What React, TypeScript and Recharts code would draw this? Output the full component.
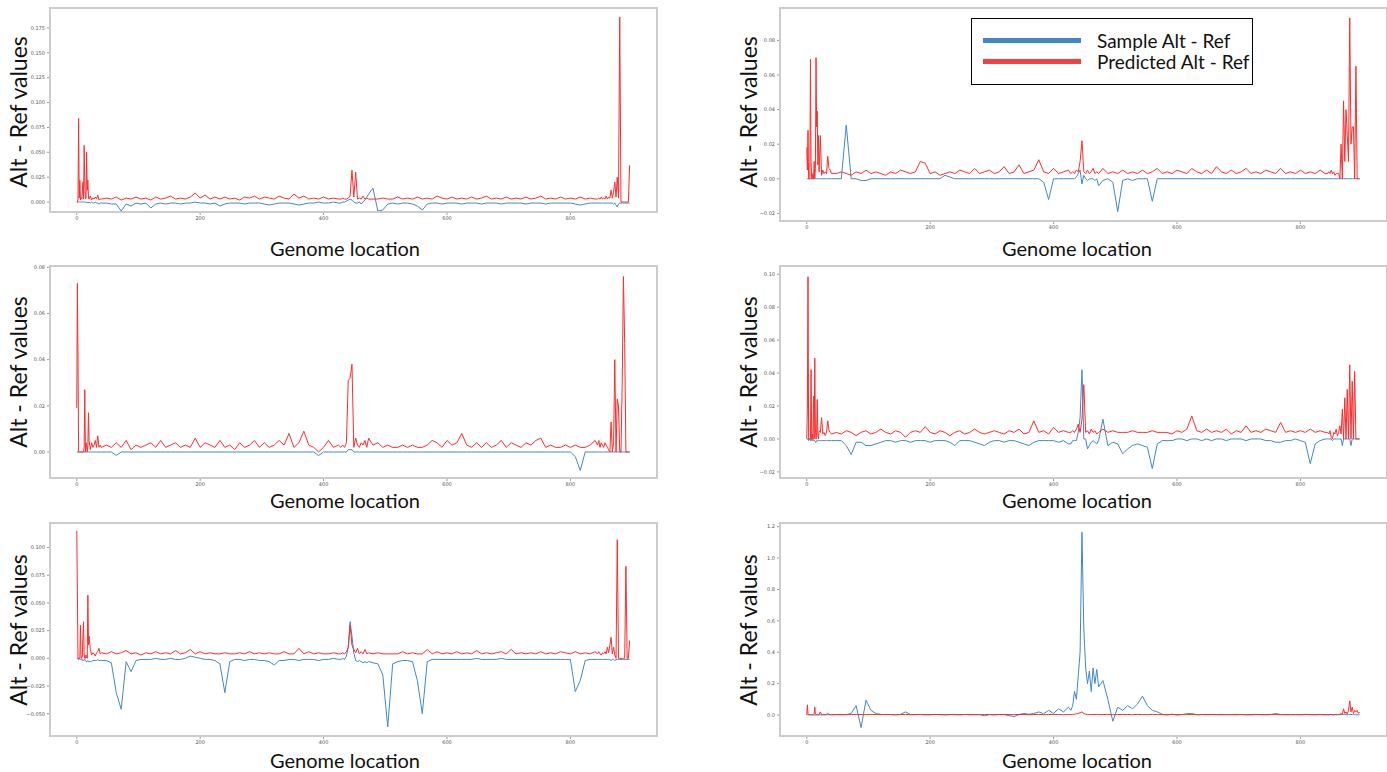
import { LineChart, Line, XAxis, YAxis } from 'recharts';

// genome positions (denser around the spikes at both ends and the middle)
const LOCATIONS = [
  0, 1, 2, 3, 4, 5, 6, 7, 8, 9, 10, 11, 12, 13, 14, 15, 16, 17, 18, 19, 20,
  22, 24, 26, 28, 30, 32, 34, 36, 38, 40,
  48, 56, 64, 72, 80, 88, 96, 104,
  112, 120, 128, 136, 144, 152, 160, 168,
  176, 184, 192, 200, 208, 216, 224, 232,
  240, 248, 256, 264, 272, 280, 288, 296,
  304, 312, 320, 328, 336, 344, 352, 360,
  368, 376, 384, 392, 400, 408, 416, 424,
  428, 431, 434, 437, 440, 443, 446, 449,
  452, 455, 458, 461, 464, 467, 470, 473,
  480, 488, 496, 504, 512, 520, 528, 536,
  544, 552, 560, 568, 576, 584, 592, 600,
  608, 616, 624, 632, 640, 648, 656, 664,
  672, 680, 688, 696, 704, 712, 720, 728,
  736, 744, 752, 760, 768, 776, 784, 792,
  800, 808, 816, 824, 832, 840,
  844, 846, 848, 850, 852, 854, 856, 858,
  860, 862, 864, 866, 868, 870, 872, 874,
  876, 878, 880, 882, 884, 886, 888, 890,
  892, 894, 896,
];

const X_TICKS = [0, 200, 400, 600, 800];

// top left
const L1_SAMPLE = [
  0, 0, 0, 0, 0, 0, 0, 0, 0, 0, 0, 0, 0, 0, 0, 0, 0, -0.001, 0, -0.001, 0,
  -0.001, 0, -0.001, -0.001, 0, -0.001, -0.001, -0.002, -0.001, -0.001,
  -0.001, -0.002, -0.002, -0.009, -0.002, -0.004, -0.001, -0.002,
  -0.001, -0.006, -0.002, -0.001, -0.002, -0.001, -0.001, -0.002,
  -0.001, -0.001, 0, -0.001, -0.001, -0.002, -0.001, -0.004,
  -0.002, -0.001, -0.001, -0.001, -0.002, -0.001, -0.001, -0.001,
  -0.002, -0.003, -0.002, -0.001, -0.001, -0.001, -0.002, -0.003,
  -0.002, -0.001, -0.001, 0, -0.001, -0.001, 0, -0.001,
  -0.001, 0, 0, 0.001, 0.002, 0.003, 0.002, 0,
  -0.001, -0.001, 0, -0.002, 0, 0.002, 0.005, 0.008,
  0.014, -0.009, -0.008, -0.002, -0.001, -0.002, -0.001, -0.001,
  -0.002, -0.004, -0.008, -0.002, -0.001, -0.001, -0.002, -0.001,
  -0.001, -0.001, -0.002, -0.001, -0.001, -0.001, -0.002, -0.001,
  -0.001, -0.001, -0.002, -0.001, -0.001, -0.001, -0.001, -0.002,
  -0.001, -0.001, -0.001, -0.002, -0.001, -0.001, -0.001, -0.001,
  -0.001, -0.002, -0.003, -0.002, -0.001, -0.001,
  -0.001, -0.001, -0.001, -0.001, -0.001, -0.001, -0.001, -0.001,
  -0.001, -0.001, -0.001, -0.001, -0.001, -0.002, -0.001, -0.003,
  -0.005, -0.002, -0.001, -0.001, -0.001, -0.001, -0.001, -0.001,
  -0.001, -0.001, -0.001,
];
const L1_PREDICTED = [
  0, 0, 0.003, 0.084, 0.004, 0.022, 0.002, 0.004, 0.003, 0.01, 0.02, 0.003, 0.057, 0.02, 0.003, 0.004, 0.05, 0.012, 0.022, 0.004, 0.003,
  0.006, 0.002, 0.004, 0.003, 0.005, 0.003, 0.007, 0.002, 0.003, 0.003,
  0.004, 0.003, 0.005, 0.002, 0.004, 0.003, 0.005, 0.003,
  0.004, 0.002, 0.005, 0.003, 0.004, 0.006, 0.003, 0.004,
  0.003, 0.005, 0.009, 0.004, 0.007, 0.003, 0.005, 0.003,
  0.005, 0.003, 0.004, 0.002, 0.005, 0.004, 0.006, 0.003,
  0.005, 0.004, 0.003, 0.006, 0.004, 0.003, 0.008, 0.004,
  0.006, 0.003, 0.004, 0.003, 0.005, 0.003, 0.004, 0.003,
  0.003, 0.004, 0.003, 0.003, 0.004, 0.006, 0.032, 0.005,
  0.03, 0.003, 0.004, 0.003, 0.006, 0.003, 0.004, 0.003,
  0.003, 0.003, 0.004, 0.003, 0.003, 0.005, 0.003, 0.004,
  0.003, 0.005, 0.003, 0.004, 0.003, 0.006, 0.004, 0.003,
  0.005, 0.003, 0.004, 0.003, 0.005, 0.003, 0.004, 0.006,
  0.003, 0.004, 0.003, 0.005, 0.003, 0.004, 0.003, 0.005,
  0.003, 0.004, 0.006, 0.003, 0.004, 0.003, 0.005, 0.003,
  0.004, 0.003, 0.005, 0.003, 0.004, 0.003,
  0.003, 0.004, 0.003, 0.005, 0.003, 0.004, 0.003, 0.006,
  0.003, 0.005, 0.004, 0.012, 0.004, 0.01, 0.02, 0.005,
  0.025, 0.004, 0.186, 0, 0, 0, 0, 0,
  0, 0, 0.037,
];

// top right
const R1_SAMPLE = [
  0, 0, 0, 0, 0, 0, 0, 0, 0, 0, 0, 0, 0, 0, 0, 0, 0, 0, 0, 0, 0,
  0, 0, 0, 0, 0, 0, 0, 0, 0, 0,
  0, 0, 0.031, 0, 0, -0.001, -0.001, 0,
  0, 0, 0, 0, 0, 0, 0, 0,
  0, 0, 0, 0, 0, 0, 0.002, 0.001,
  0, 0, 0, 0, 0, 0, 0, 0,
  0, 0, 0, 0, 0, 0, 0, 0,
  0, 0, -0.002, -0.012, 0, 0, 0, 0,
  0, 0, 0, 0.001, 0.003, 0.005, -0.003, 0.002,
  0, -0.001, 0, 0, 0, -0.001, 0, -0.004,
  -0.001, 0, -0.002, -0.019, -0.001, 0, -0.001, 0,
  0, 0, -0.013, 0, 0, 0, 0, 0,
  0, 0, 0, 0, 0, 0, 0, 0,
  0, 0, 0, 0, 0, 0, 0, 0,
  0, 0, 0, 0, 0, 0, 0, 0,
  0, 0, 0, 0, 0, 0,
  0, 0, 0, 0, 0, 0, 0, 0,
  0, 0, 0, 0, 0, 0, 0, 0,
  0, 0, 0, 0, 0, 0, 0, 0,
  0, 0, 0,
];
const R1_PREDICTED = [
  0.018, 0.005, 0.028, 0, 0, 0, 0.069, 0.01, 0, 0, 0.003, 0, 0.01, 0, 0.006, 0.07, 0.03, 0.039, 0.008, 0.025, 0.004,
  0.025, 0.002, 0.005, 0.003, 0.004, 0.003, 0.013, 0.006, 0.005, 0.003,
  0.003, 0.004, 0.003, 0.002, 0.004, 0.003, 0.005, 0.003,
  0.004, 0.003, 0.002, 0.004, 0.003, 0.005, 0.004, 0.003,
  0.004, 0.01, 0.009, 0.003, 0.004, 0.002, 0.003, 0.004,
  0.003, 0.005, 0.004, 0.003, 0.006, 0.003, 0.004, 0.005,
  0.003, 0.004, 0.007, 0.003, 0.004, 0.008, 0.003, 0.004,
  0.005, 0.011, 0.004, 0.003, 0.006, 0.003, 0.004, 0.005,
  0.003, 0.004, 0.003, 0.005, 0.004, 0.01, 0.022, 0.004,
  0.003, 0.005, 0.003, 0.004, 0.006, 0.003, 0.004, 0.003,
  0.006, 0.003, 0.004, 0.003, 0.005, 0.003, 0.004, 0.003,
  0.005, 0.003, 0.004, 0.006, 0.003, 0.004, 0.003, 0.005,
  0.004, 0.003, 0.006, 0.004, 0.003, 0.005, 0.003, 0.007,
  0.004, 0.003, 0.005, 0.003, 0.004, 0.006, 0.003, 0.004,
  0.003, 0.005, 0.004, 0.003, 0.006, 0.003, 0.004, 0.003,
  0.005, 0.003, 0.004, 0.003, 0.005, 0.003,
  0.003, 0.004, 0.003, 0.005, 0.003, 0.004, 0.002, 0.003,
  0.003, 0.003, 0, 0.02, 0, 0.045, 0.01, 0.04,
  0.025, 0.01, 0.093, 0.02, 0.03, 0.03, 0, 0.065,
  0, 0, 0,
];

// middle left
const L2_SAMPLE = [
  0, 0, 0, 0, 0, 0, 0, 0, 0, 0, 0, 0, 0, 0, 0, 0, 0, 0, 0, 0, 0,
  0, 0, 0, 0, 0, 0, 0, 0, 0, 0,
  0, 0, -0.0015, 0, 0, 0, 0, 0,
  0, 0, 0, 0, 0, 0, 0, 0,
  0, 0, 0, 0, 0, 0, 0, 0,
  0, 0, 0, 0, 0, 0, 0, 0,
  0, 0, 0, 0, 0, 0, 0, 0,
  0, 0, 0, -0.0015, 0, 0, 0, 0,
  0, 0, 0, 0, 0.001, 0.001, 0.001, 0,
  0, 0, 0, 0, 0, 0, 0, 0,
  0, 0, 0, 0, 0, 0, 0, 0,
  0, 0, 0, 0, 0, 0, 0, 0,
  0, 0, 0, 0, 0, 0, 0, 0,
  0, 0, 0, 0, 0, 0, 0, 0,
  0, 0, 0, 0, 0, 0, 0, 0,
  0, -0.002, -0.008, 0, 0, 0,
  0, 0, 0, 0, 0, 0, 0, 0,
  0, 0, 0, 0, 0, 0, 0, 0,
  0, 0, 0, 0, 0, 0, 0, 0,
  0, 0, 0,
];
const L2_PREDICTED = [
  0.019, 0.073, 0.04, 0, 0, 0, 0, 0, 0, 0, 0, 0, 0.002, 0.027, 0, 0.004, 0.002, 0, 0.003, 0.017, 0.005,
  0.001, 0.004, 0.002, 0.003, 0.005, 0.002, 0.007, 0.002, 0.003, 0.002,
  0.003, 0.002, 0.004, 0.002, 0.005, 0.001, 0.003, 0.002,
  0.003, 0.004, 0.002, 0.005, 0.002, 0.003, 0.004, 0.002,
  0.003, 0.002, 0.006, 0.002, 0.004, 0.003, 0.002, 0.005,
  0.002, 0.003, 0.001, 0.004, 0.002, 0.003, 0.005, 0.002,
  0.004, 0.002, 0.003, 0.005, 0.003, 0.008, 0.002, 0.004,
  0.009, 0.003, 0.002, 0, 0.002, 0.005, 0.002, 0.003,
  0.002, 0.003, 0.002, 0.004, 0.031, 0.032, 0.038, 0.002,
  0.006, 0.003, 0.002, 0.004, 0.003, 0.005, 0.002, 0.006,
  0.003, 0.004, 0.002, 0.003, 0.002, 0.002, 0.003, 0.002,
  0.003, 0.002, 0.002, 0.003, 0.005, 0.004, 0.002, 0.005,
  0.003, 0.004, 0.008, 0.003, 0.002, 0.004, 0.002, 0.004,
  0.002, 0.003, 0.005, 0.002, 0.004, 0.003, 0.002, 0.004,
  0.003, 0.005, 0.006, 0.002, 0.003, 0.002, 0.002, 0.003,
  0.002, 0.003, 0.002, 0.002, 0.003, 0.005,
  0.003, 0.005, 0.002, 0.004, 0.003, 0.002, 0.004, 0.003,
  0.002, 0.001, 0, 0.013, 0, 0.004, 0.04, 0,
  0.023, 0.02, 0, 0, 0.03, 0.076, 0.047, 0,
  0, 0, 0,
];

// middle right
const R2_SAMPLE = [
  0, 0, 0, -0.001, 0, 0, -0.001, 0, -0.001, -0.001, 0, -0.001, -0.001, -0.001, -0.002, -0.002, -0.001, -0.001, -0.001, -0.001, -0.001,
  -0.001, -0.001, -0.001, -0.001, -0.001, -0.001, -0.001, -0.001, -0.001, -0.001,
  -0.001, -0.001, -0.004, -0.0095, -0.002, -0.002, -0.004, -0.004,
  -0.003, -0.002, -0.001, -0.001, -0.002, -0.001, -0.001, -0.002,
  -0.001, -0.001, -0.001, -0.002, -0.001, -0.001, -0.001, -0.002,
  -0.004, -0.001, -0.001, -0.001, -0.002, -0.003, -0.004, -0.002,
  -0.001, -0.001, -0.002, -0.001, -0.001, -0.002, -0.003, -0.004,
  -0.002, -0.001, -0.001, -0.001, -0.001, -0.002, -0.001, -0.003,
  -0.003, -0.001, -0.001, -0.001, 0.004, 0.013, 0.042, 0,
  0, -0.006, -0.004, -0.002, -0.001, -0.002, -0.003, -0.001,
  0.012, -0.004, -0.002, -0.003, -0.009, -0.006, -0.004, -0.003,
  -0.004, -0.005, -0.018, -0.003, -0.001, -0.001, -0.001, 0,
  0, -0.001, 0, 0, -0.001, 0, -0.001, 0,
  0, -0.001, 0, 0, 0, -0.001, 0, 0,
  0, -0.001, -0.001, -0.002, -0.002, -0.001, -0.001, 0,
  -0.001, -0.002, -0.015, -0.003, -0.001, 0,
  0, 0, 0, 0, -0.001, 0, 0, 0,
  0, 0, 0, 0, -0.004, 0, 0, 0,
  0, 0, 0, -0.004, 0, 0, 0, 0,
  0, 0, 0,
];
const R2_PREDICTED = [
  0, 0.02, 0.0985, 0, 0, 0, 0, 0.042, 0, 0.003, 0, 0.026, 0, 0.049, 0.006, 0, 0.004, 0.024, 0.002, 0, 0.005,
  0.004, 0.013, 0.003, 0.004, 0.002, 0.004, 0.011, 0.005, 0.004, 0.003,
  0.004, 0.003, 0.005, 0.004, 0.002, 0.004, 0.005, 0.003,
  0.004, 0.006, 0.004, 0.003, 0.005, 0.004, 0.001, 0.004,
  0.005, 0.004, 0.0075, 0.004, 0.003, 0.005, 0.004, 0.002,
  0.004, 0.005, 0.003, 0.004, 0.006, 0.004, 0.003, 0.004,
  0.005, 0.004, 0.003, 0.005, 0.004, 0.006, 0.003, 0.004,
  0.011, 0.004, 0.005, 0.003, 0.007, 0.004, 0.005, 0.004,
  0.004, 0.005, 0.004, 0.006, 0.009, 0.004, 0.012, 0.033,
  0.004, 0.005, 0.003, 0.006, 0.004, 0.005, 0.003, 0.004,
  0.006, 0.004, 0.005, 0.004, 0.004, 0.004, 0.005, 0.004,
  0.004, 0.004, 0.005, 0.004, 0.004, 0.004, 0.003, 0.005,
  0.004, 0.006, 0.014, 0.005, 0.004, 0.006, 0.004, 0.005,
  0.004, 0.006, 0.003, 0.005, 0.004, 0.008, 0.004, 0.005,
  0.004, 0.006, 0.005, 0.004, 0.01, 0.004, 0.005, 0.004,
  0.005, 0.004, 0.006, 0.004, 0.005, 0.004,
  0.004, 0.003, 0.005, 0.001, 0, 0.004, 0.003, 0.006,
  0.002, 0.004, 0.008, 0.003, 0.018, 0, 0.025, 0,
  0.03, 0, 0.045, 0, 0.035, 0, 0.041, 0,
  0, 0, 0,
];

// bottom left
const L3_SAMPLE = [
  0, 0, -0.001, -0.001, 0, -0.001, -0.001, -0.001, -0.001, -0.002, -0.001, -0.002, -0.002, -0.001, -0.002, -0.003, -0.003, -0.003, -0.002, -0.003, -0.003,
  -0.003, -0.003, -0.002, -0.002, -0.002, -0.002, -0.001, -0.002, -0.002, -0.002,
  -0.002, -0.004, -0.031, -0.046, -0.003, -0.012, -0.002, -0.001,
  -0.001, -0.001, 0, -0.001, -0.001, 0, -0.001, -0.001,
  0, 0.002, 0.001, 0, -0.001, -0.001, -0.002, -0.005,
  -0.031, -0.003, -0.001, -0.001, -0.002, -0.001, -0.001, -0.002,
  -0.002, -0.003, -0.006, -0.002, -0.002, -0.001, -0.001, -0.002,
  -0.001, -0.001, -0.001, -0.002, -0.001, -0.001, 0, -0.001,
  -0.001, 0, -0.001, 0.002, 0.01, 0.033, 0.02, 0.005,
  -0.002, -0.003, -0.002, -0.003, -0.004, -0.003, -0.004, -0.003,
  -0.004, -0.005, -0.015, -0.062, -0.005, -0.003, -0.002, -0.002,
  -0.003, -0.02, -0.05, -0.003, -0.001, -0.001, -0.001, -0.001,
  -0.001, -0.001, -0.001, -0.001, -0.001, 0, -0.001, -0.001,
  -0.001, -0.001, 0, -0.001, -0.001, -0.001, -0.001, -0.001,
  -0.001, -0.001, -0.001, -0.001, -0.001, -0.001, -0.001, -0.001,
  -0.001, -0.03, -0.02, -0.002, -0.001, -0.001,
  -0.001, -0.001, -0.001, -0.001, -0.001, -0.001, -0.001, -0.001,
  -0.001, -0.001, -0.001, -0.002, -0.001, -0.001, -0.002, -0.001,
  -0.001, -0.001, -0.001, -0.001, -0.001, -0.001, -0.001, -0.001,
  -0.001, -0.001, -0.001,
];
const L3_PREDICTED = [
  0.115, 0.06, 0, 0, 0, 0, 0.03, 0, 0, 0.002, 0.02, 0.033, 0.003, 0, 0, 0.003, 0.001, 0, 0.057, 0.012, 0.02,
  0.008, 0.003, 0.005, 0.004, 0.002, 0.005, 0.006, 0.009, 0.004, 0.005,
  0.004, 0.006, 0.004, 0.005, 0.007, 0.004, 0.005, 0.003,
  0.005, 0.004, 0.006, 0.004, 0.005, 0.004, 0.007, 0.004,
  0.005, 0.008, 0.004, 0.006, 0.004, 0.005, 0.004, 0.004,
  0.005, 0.004, 0.004, 0.005, 0.004, 0.006, 0.004, 0.005,
  0.004, 0.005, 0.004, 0.004, 0.006, 0.004, 0.004, 0.009,
  0.004, 0.006, 0.004, 0.005, 0.004, 0.004, 0.005, 0.004,
  0.004, 0.005, 0.004, 0.006, 0.01, 0.03, 0.012, 0.008,
  0.005, 0.009, 0.004, 0.006, 0.004, 0.008, 0.004, 0.005,
  0.004, 0.005, 0.004, 0.004, 0.004, 0.004, 0.006, 0.004,
  0.005, 0.004, 0.004, 0.008, 0.004, 0.006, 0.004, 0.005,
  0.004, 0.006, 0.004, 0.005, 0.004, 0.007, 0.004, 0.005,
  0.004, 0.005, 0.006, 0.004, 0.008, 0.004, 0.005, 0.004,
  0.005, 0.004, 0.006, 0.004, 0.005, 0.004, 0.006, 0.005,
  0.004, 0.006, 0.004, 0.005, 0.004, 0.006,
  0.004, 0.006, 0.004, 0.003, 0.005, 0.004, 0.006, 0.004,
  0.01, 0.005, 0.012, 0.019, 0.004, 0.01, 0.003, 0,
  0.107, 0, 0, 0, 0, 0, 0, 0.083,
  0, 0, 0.016,
];

// bottom right
const R3_SAMPLE = [
  0, 0.002, 0, 0.001, 0, 0.002, 0.001, 0, 0.001, 0, 0.002, 0.001, 0, 0.001, 0, 0.002, 0.001, 0, 0.001, 0, 0.001,
  0.002, 0, 0.001, 0.003, 0, 0.002, 0.001, 0.003, 0, 0.002,
  0.002, 0.001, 0.003, 0.01, 0.06, -0.08, 0.095, 0.03,
  0.01, 0.004, 0.002, 0.003, 0.001, 0.004, 0.02, 0.003,
  0.002, 0.003, 0.001, 0.002, 0.004, 0.002, 0.001, 0.003,
  0.002, 0.001, 0.003, 0.001, 0.002, 0.003, -0.005, 0.002,
  0.001, 0.003, 0.002, -0.004, -0.01, 0.003, 0.01, 0.005,
  0.01, 0.02, 0.008, 0.03, 0.01, 0.04, 0.02, 0.05,
  0.03, 0.06, 0.15, 0.1, 0.25, 0.4, 1.165, 0.55,
  0.3, 0.2, 0.28, 0.15, 0.3, 0.2, 0.29, 0.18,
  0.22, 0.1, -0.04, 0.05, 0.03, 0.06, 0.04, 0.07,
  0.12, 0.06, 0.03, 0.02, 0.005, 0, 0.005, 0,
  0.003, 0.008, 0.01, 0.002, 0.003, 0.001, 0.004, 0.002,
  0.001, 0.003, 0.002, 0.001, 0.003, 0.002, 0.001, 0.002,
  0.003, 0.001, 0.002, 0.01, 0.003, 0.001, 0.002, 0.003,
  0.001, 0.002, 0.003, 0.001, 0.002, 0.001,
  0.002, 0.001, 0.003, 0.002, 0.001, 0.002, 0.003, 0.001,
  0.002, 0.001, 0.003, 0.002, 0.004, 0.002, 0.003, 0.002,
  0.001, 0.003, 0.002, 0.004, 0.002, 0.003, 0.002, 0.001,
  0.002, 0.001, 0.002,
];
const R3_PREDICTED = [
  0, 0.065, 0.01, 0.002, 0.003, 0.002, 0.003, 0.002, 0.003, 0.002, 0.003, 0.002, 0.01, 0.05, 0.004, 0.002, 0.003, 0.002, 0.003, 0.002, 0.003,
  0.02, 0.004, 0.003, 0.002, 0.003, 0.005, 0.01, 0.004, 0.003, 0.002,
  0.003, 0.004, 0.002, 0.003, 0.004, 0.003, 0.002, 0.004,
  0.003, 0.002, 0.004, 0.003, 0.002, 0.003, 0.004, 0.002,
  0.003, 0.004, 0.003, 0.002, 0.003, 0.004, 0.002, 0.003,
  0.004, 0.002, 0.003, 0.004, 0.003, 0.002, 0.003, 0.004,
  0.002, 0.003, 0.004, 0.003, 0.002, 0.004, 0.003, 0.002,
  0.003, 0.004, 0.002, 0.003, 0.004, 0.003, 0.002, 0.003,
  0.003, 0.004, 0.005, 0.008, 0.01, 0.015, 0.02, 0.01,
  0.005, 0.004, 0.003, 0.003, 0.004, 0.003, 0.004, 0.003,
  0.003, 0.004, 0.002, 0.003, 0.004, 0.003, 0.002, 0.004,
  0.003, 0.002, 0.004, 0.003, 0.002, 0.003, 0.004, 0.002,
  0.003, 0.004, 0.003, 0.002, 0.003, 0.004, 0.002, 0.003,
  0.004, 0.002, 0.003, 0.004, 0.003, 0.002, 0.003, 0.004,
  0.002, 0.003, 0.004, 0.003, 0.002, 0.004, 0.003, 0.002,
  0.003, 0.004, 0.002, 0.003, 0.004, 0.003,
  0.003, 0.002, 0.003, 0.004, 0.003, 0.002, 0.003, 0.004,
  0.003, 0.005, 0.004, 0.01, 0.004, 0.04, 0.01, 0.02,
  0.005, 0.03, 0.09, 0.02, 0.05, 0.01, 0.03, 0.02,
  0.03, 0.01, 0.02,
];

const L1_TICKS = [0, 0.025, 0.05, 0.075, 0.1, 0.125, 0.15, 0.175];
const R1_TICKS = [-0.02, 0, 0.02, 0.04, 0.06, 0.08];
const L2_TICKS = [0, 0.02, 0.04, 0.06, 0.08];
const R2_TICKS = [-0.02, 0, 0.02, 0.04, 0.06, 0.08, 0.1];
const L3_TICKS = [-0.05, -0.025, 0, 0.025, 0.05, 0.075, 0.1];
const R3_TICKS = [0, 0.2, 0.4, 0.6, 0.8, 1.0, 1.2];

const SERIES_NAMES = ['Sample Alt - Ref', 'Predicted Alt - Ref'];

const BLUE = '#3f8ac6';
const RED = '#ff2b2b';
const BOX_W = 609;
const AXIS_W = 40;
const X_DOMAIN: [number, number] = [-45, 942];
const LABEL_FONT = 'Lato, "Open Sans", sans-serif';
const TICK_STYLE = { fontSize: 5, fill: '#555', fontFamily: 'DejaVu Sans' };

const PANELS = [
  { left: 49, top: 7, h: 206, domain: [-0.011, 0.196], ticks: L1_TICKS, dec: 3, sample: L1_SAMPLE, predicted: L1_PREDICTED },
  { left: 779, top: 7, h: 215, domain: [-0.025, 0.0993], ticks: R1_TICKS, dec: 2, sample: R1_SAMPLE, predicted: R1_PREDICTED },
  { left: 49, top: 265, h: 214, domain: [-0.0117, 0.081], ticks: L2_TICKS, dec: 2, sample: L2_SAMPLE, predicted: L2_PREDICTED },
  { left: 779, top: 265, h: 214, domain: [-0.0243, 0.1056], ticks: R2_TICKS, dec: 2, sample: R2_SAMPLE, predicted: R2_PREDICTED },
  { left: 49, top: 522, h: 215, domain: [-0.071, 0.123], ticks: L3_TICKS, dec: 3, sample: L3_SAMPLE, predicted: L3_PREDICTED },
  { left: 779, top: 522, h: 215, domain: [-0.14, 1.23], ticks: R3_TICKS, dec: 1, sample: R3_SAMPLE, predicted: R3_PREDICTED },
];

// where the axis titles sit (centres)
const X_TITLES = [
  { x: 345, y: 248 }, { x: 1077, y: 248 },
  { x: 345, y: 500 }, { x: 1077, y: 500 },
  { x: 345, y: 760 }, { x: 1077, y: 760 },
];
const Y_TITLES = [
  { x: 18, y: 112 }, { x: 748, y: 112 },
  { x: 18, y: 372 }, { x: 748, y: 372 },
  { x: 18, y: 630 }, { x: 748, y: 630 },
];

function fmt(dec: number) {
  return (v: number) => (v < 0 ? '\u2212' : '') + Math.abs(v).toFixed(dec);
}

function Panel({ cfg }: { cfg: (typeof PANELS)[number] }) {
  const rows = LOCATIONS.map((x, i) => ({ x, sample: cfg.sample[i], predicted: cfg.predicted[i] }));
  return (
    <div style={{ position: 'absolute', left: cfg.left - AXIS_W, top: cfg.top }}>
      <LineChart width={BOX_W + AXIS_W} height={cfg.h + 14} data={rows} margin={{ top: 0, right: 0, bottom: 0, left: 0 }}>
        <XAxis
          type="number"
          dataKey="x"
          domain={X_DOMAIN}
          ticks={X_TICKS}
          allowDataOverflow
          height={14}
          tickSize={2}
          tickMargin={1}
          axisLine={false}
          tickLine={{ stroke: '#999' }}
          tick={TICK_STYLE}
        />
        <YAxis
          type="number"
          domain={cfg.domain}
          ticks={cfg.ticks}
          allowDataOverflow
          width={AXIS_W}
          tickSize={2}
          tickMargin={2}
          axisLine={false}
          tickLine={{ stroke: '#999' }}
          tick={TICK_STYLE}
          tickFormatter={fmt(cfg.dec)}
        />
        <Line type="linear" dataKey="sample" name={SERIES_NAMES[0]} stroke={BLUE} strokeWidth={1} dot={false} activeDot={false} isAnimationActive={false} />
        <Line type="linear" dataKey="predicted" name={SERIES_NAMES[1]} stroke={RED} strokeWidth={1} dot={false} activeDot={false} isAnimationActive={false} />
      </LineChart>
      <div
        style={{
          position: 'absolute',
          left: AXIS_W,
          top: 0,
          width: BOX_W,
          height: cfg.h,
          border: '2px solid #cccccc',
          boxSizing: 'border-box',
          pointerEvents: 'none',
        }}
      />
    </div>
  );
}

export default function App() {
  return (
    <div style={{ position: 'absolute', left: 0, top: 0, width: 1387, height: 772, overflow: 'hidden', background: '#fff' }}>
      {PANELS.map((p, i) => (
        <Panel key={i} cfg={p} />
      ))}
      {X_TITLES.map((t, i) => (
        <div
          key={'x' + i}
          style={{ position: 'absolute', left: t.x - 150, top: t.y - 14, width: 300, lineHeight: '28px', textAlign: 'center', fontFamily: LABEL_FONT, fontSize: 20, color: '#111' }}
        >
          Genome location
        </div>
      ))}
      {Y_TITLES.map((t, i) => (
        <div
          key={'y' + i}
          style={{
            position: 'absolute',
            left: t.x - 150,
            top: t.y - 15,
            width: 300,
            lineHeight: '30px',
            textAlign: 'center',
            fontFamily: LABEL_FONT,
            fontSize: 23,
            color: '#111',
            transform: 'rotate(-90deg)',
          }}
        >
          Alt - Ref values
        </div>
      ))}
      <div style={{ position: 'absolute', left: 971, top: 18, width: 282, height: 67, border: '1.5px solid #000', boxSizing: 'border-box', background: '#fff', fontFamily: LABEL_FONT, fontSize: 19, color: '#111' }}>
        {SERIES_NAMES.map((name, i) => (
          <div key={name} style={{ position: 'absolute', left: 11, top: 10 + i * 21, height: 22, display: 'flex', alignItems: 'center' }}>
            <div style={{ width: 98, height: 5, background: i === 0 ? BLUE : '#f64040' }} />
            <span style={{ marginLeft: 16, whiteSpace: 'nowrap' }}>{name}</span>
          </div>
        ))}
      </div>
    </div>
  );
}
